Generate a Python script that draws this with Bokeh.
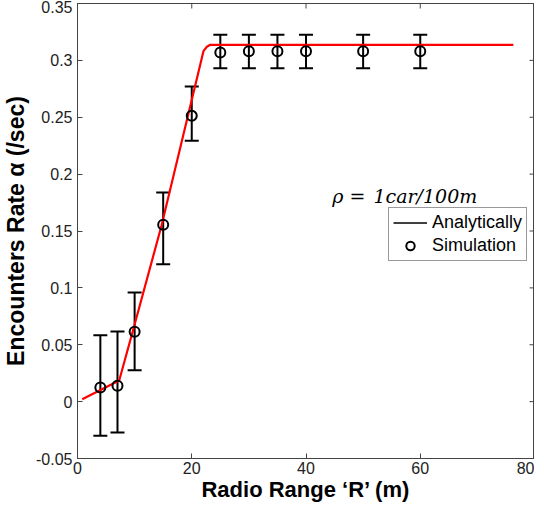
import math
from bokeh.plotting import figure
from bokeh.models import (ColumnDataSource, Whisker, TeeHead, Legend, LegendItem,
                          Label, Range1d, FixedTicker, Span)
from bokeh.embed import file_html
from bokeh.resources import INLINE

# ---- data ----
sim_range = [4, 7, 10, 15, 20, 25, 30, 35, 40, 50, 60]
sim_rate = [0.0124, 0.0139, 0.0614, 0.1554, 0.2513, 0.307, 0.308, 0.308, 0.308, 0.308, 0.308]
sim_upper = [0.0584, 0.0616, 0.0959, 0.1838, 0.277, 0.3225, 0.3225, 0.3225, 0.3225, 0.3225, 0.3225]
sim_lower = [-0.030, -0.0271, 0.0276, 0.1208, 0.2293, 0.293, 0.293, 0.293, 0.293, 0.293, 0.293]

ana_range = [0.83, 7.3, 9.7, 14.7, 22.07, 22.65, 23.24, 76.3]
ana_rate = [0.0021, 0.0186, 0.0623, 0.1546, 0.3084, 0.312, 0.3137, 0.3137]

x_lim = [0, 80]
y_lim = [-0.05, 0.35]
x_ticks = [0, 20, 40, 60, 80]
y_ticks = [-0.05, 0, 0.05, 0.1, 0.15, 0.2, 0.25, 0.3, 0.35]
y_tick_labels = ["-0.05", "0", "0.05", "0.1", "0.15", "0.2", "0.25", "0.3", "0.35"]

AX = "#444444"
TXT = "#222222"
FONT = "Liberation Sans"
NAN = float("nan")

p = figure(width=534, height=507, output_backend="svg", toolbar_location=None,
           x_range=Range1d(*x_lim), y_range=Range1d(*y_lim),
           min_border_left=69, min_border_right=0, min_border_top=3, min_border_bottom=49)
p.grid.visible = False
p.outline_line_color = AX
p.outline_line_width = 1
p.background_fill_color = "white"
p.border_fill_color = "white"

# top and right edges of the box
p.add_layout(Span(location=x_lim[1], dimension="height", line_color=AX, line_width=1))
p.add_layout(Span(location=y_lim[1], dimension="width", line_color=AX, line_width=1))

# red analytic curve
ana_src = ColumnDataSource(dict(r=ana_range, rate=ana_rate))
p.line("r", "rate", source=ana_src, line_color="#ff0000", line_width=2.2)

# simulation points with error bars
sim_src = ColumnDataSource(dict(r=sim_range, rate=sim_rate, upper=sim_upper, lower=sim_lower))
wh = Whisker(source=sim_src, base="r", upper="upper", lower="lower", dimension="height",
             line_color="black", line_width=2,
             upper_head=TeeHead(size=14, line_color="black", line_width=2),
             lower_head=TeeHead(size=14, line_color="black", line_width=2))
p.add_layout(wh)
sim_r = p.scatter("r", "rate", source=sim_src, marker="circle", size=10,
                  fill_color=None, line_color="black", line_width=2)

# mirrored inward ticks on top and right edges (dash markers clipped by the frame)
p.scatter(x=x_ticks, y=[y_lim[1]] * len(x_ticks), marker="dash", size=10,
          angle=math.pi / 2, line_color=AX, line_width=1)
p.scatter(x=[x_lim[1]] * len(y_ticks), y=y_ticks, marker="dash", size=10,
          line_color=AX, line_width=1)

# legend proxy for the analytic line (MATLAB shows it in black); NaN = nothing drawn
legend_line = p.line(x=[NAN], y=[NAN], line_color="black", line_width=1.5)

legend = Legend(items=[LegendItem(label="Analytically", renderers=[legend_line]),
                       LegendItem(label="Simulation", renderers=[sim_r])],
                location=(311, 197), orientation="vertical",
                border_line_color="#333333", border_line_width=1,
                background_fill_color="white", background_fill_alpha=1,
                padding=4, spacing=2, margin=0,
                glyph_width=34, glyph_height=21, label_standoff=5, label_height=21,
                label_text_font=FONT, label_text_font_size="18px", label_text_color="black")
p.add_layout(legend, "center")

# annotation
p.add_layout(Label(x=44.6, y=0.181, text="ρ =", text_font="DejaVu Serif",
                   text_font_style="italic", text_font_size="19px", text_color="black",
                   text_baseline="alphabetic", text_align="left"))
p.add_layout(Label(x=51.8, y=0.181, text="1car/100m", text_font="DejaVu Serif",
                   text_font_style="italic", text_font_size="19px", text_color="black",
                   text_baseline="alphabetic", text_align="left"))

# axes
def style_axis(ax):
    ax.axis_line_color = AX
    ax.axis_line_width = 1
    ax.major_tick_line_color = AX
    ax.major_tick_in = 5
    ax.major_tick_out = 0
    ax.minor_tick_line_color = None
    ax.major_label_text_font = FONT
    ax.major_label_text_font_size = "16px"
    ax.major_label_text_color = TXT
    ax.axis_label_text_font = FONT
    ax.axis_label_text_font_style = "bold"
    ax.axis_label_text_color = "black"

xa = p.xaxis[0]
style_axis(xa)
xa.ticker = FixedTicker(ticks=x_ticks)
xa.major_label_standoff = 3
xa.axis_label = "Radio Range ‘R’ (m)"
xa.axis_label_text_font_size = "22px"
xa.axis_label_standoff = 0

ya = p.yaxis[0]
style_axis(ya)
ya.ticker = FixedTicker(ticks=y_ticks)
ya.major_label_overrides = {t: l for t, l in zip(y_ticks, y_tick_labels)}
ya.major_label_standoff = 5
ya.axis_label = "Encounters Rate α (/sec)"
ya.axis_label_text_font_size = "23px"
ya.axis_label_standoff = 4

open("out.html", "w").write(file_html(p, INLINE))
